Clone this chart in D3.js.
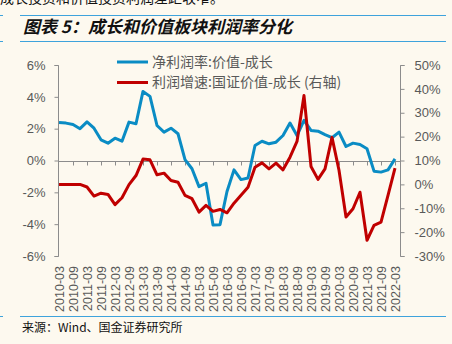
<!DOCTYPE html>
<html>
<head>
<meta charset="utf-8">
<script src="https://cdn.jsdelivr.net/npm/d3@7"></script>
<style>
  html, body { margin: 0; padding: 0; background: #fdf9ef; }
  svg { display: block; }
  text { font-family: "Liberation Sans", "Noto Sans CJK SC", sans-serif; }
</style>
</head>
<body>
<svg id="chart" width="452" height="344"></svg>
<script>
// Quarterly periods
const quarters = [
  "2010-03","2010-06","2010-09","2010-12","2011-03","2011-06","2011-09","2011-12",
  "2012-03","2012-06","2012-09","2012-12","2013-03","2013-06","2013-09","2013-12",
  "2014-03","2014-06","2014-09","2014-12","2015-03","2015-06","2015-09","2015-12",
  "2016-03","2016-06","2016-09","2016-12","2017-03","2017-06","2017-09","2017-12",
  "2018-03","2018-06","2018-09","2018-12","2019-03","2019-06","2019-09","2019-12",
  "2020-03","2020-06","2020-09","2020-12","2021-03","2021-06","2021-09","2021-12",
  "2022-03"
];
// Net margin spread: value minus growth (%), left axis
const marginSpread = [
  2.38, 2.35, 2.26, 2.0, 2.43, 2.03, 1.3, 1.09, 1.4, 1.21, 2.41, 2.31,
  4.34, 4.03, 2.2, 1.78, 2.03, 1.68, 0.06, -0.52, -1.64, -1.43, -4.05, -4.03,
  -1.95, -0.59, -1.2, -1.1, 0.94, 1.21, 1.05, 1.15, 1.57, 2.35, 1.57, 2.52,
  1.89, 1.84, 1.62, 1.43, 1.78, 0.88, 1.09, 1.0, 0.74, -0.67, -0.73, -0.59, 0.1
];
// Profit growth spread: CNI value minus growth (%), right axis
const growthSpread = [
  0, 0, 0, 0, -1.1, -4.9, -3.7, -4.2, -8.5, -5.6, -0.1, 3.7,
  10.6, 10.3, 4.0, 4.7, 1.6, 0.9, -4.6, -6.0, -11.6, -8.8, -11.3, -10.5,
  -11.9, -7.9, -4.6, -1.2, 7.2, 9.0, 6.5, 8.9, 6.1, 11.4, 18.0, 37.2,
  7.5, 2.1, 6.5, 19.7, 5.9, -13.7, -10.2, -3.3, -23.4, -17.2, -15.8, -4.6, 6.8
];
const leftTicks = [-6, -4, -2, 0, 2, 4, 6];
const rightTicks = [-30, -20, -10, 0, 10, 20, 30, 40, 50];
const seriesNames = ["净利润率:价值-成长", "利润增速:国证价值-成长 (右轴)"];
const seriesColors = ["#0a8cc4", "#c00000"];

const svg = d3.select("#chart");
const gray = "#595959";
const axisGray = "#8c8c8c";
const rule = "#3ea3dc";

// Page text above the figure (runs off the top edge)
svg.append("text").attr("x", 0).attr("y", 3)
  .style("font-family", "'Noto Sans CJK SC'").style("font-size", "14px").attr("fill", "#111")
  .text("成长投资和价值投资利润差距收窄。");

// Figure header rules and title
[15.5, 41.5].forEach(y => {
  svg.append("line").attr("x1", 0).attr("x2", 3).attr("y1", y).attr("y2", y).attr("stroke", rule);
  svg.append("line").attr("x1", 20).attr("x2", 446).attr("y1", y).attr("y2", y).attr("stroke", rule);
});
svg.append("text").attr("x", 23).attr("y", 33)
  .style("font-family", "'Noto Sans CJK SC'").style("font-size", "17px")
  .style("font-weight", "bold").style("font-style", "italic").attr("fill", "#111")
  .text("图表 5：成长和价值板块利润率分化");

// Scales
const x = d3.scalePoint().domain(quarters).range([59, 395]);
const yL = d3.scaleLinear().domain([-6, 6]).range([256, 65]);
const yR = d3.scaleLinear().domain([-30, 50]).range([256, 65]);

// Left and right value axes
const gL = svg.append("g").attr("transform", "translate(58.5,0)")
  .call(d3.axisLeft(yL).tickValues(leftTicks).tickSize(4).tickPadding(9).tickFormat(d => d + "%"));
const gR = svg.append("g").attr("transform", "translate(400.5,0)")
  .call(d3.axisRight(yR).tickValues(rightTicks).tickSize(4).tickPadding(10).tickFormat(d => d + "%"));
[gL, gR].forEach(g => {
  g.select(".domain").attr("stroke", axisGray);
  g.selectAll(".tick line").attr("stroke", axisGray);
  g.selectAll(".tick text").attr("fill", gray).style("font-size", "13px")
    .style("font-family", "'Liberation Sans'");
});
gL.select(".domain").attr("d", "M-4,65.5H0V256.5H-4");
gR.select(".domain").attr("d", "M4,65.5H0V256.5H4");

// Category axis sitting on the zero line
const labelQuarters = quarters.filter((q, i) => i % 2 === 0);
const gX = svg.append("g").attr("transform", `translate(0,${Math.round(yL(0)) + 0.5})`);
gX.append("line").attr("x1", 58.5).attr("x2", 400.5).attr("stroke", axisGray);
gX.selectAll(".tk").data(labelQuarters.slice(1)).join("line")
  .attr("x1", d => Math.round(x(d)) + 0.5).attr("x2", d => Math.round(x(d)) + 0.5)
  .attr("y1", 0).attr("y2", 4).attr("stroke", axisGray);

svg.append("g").selectAll("text").data(labelQuarters).join("text")
  .attr("transform", d => `translate(${x(d)},266) rotate(-90)`)
  .attr("text-anchor", "end").attr("dy", "0.36em")
  .attr("fill", gray).style("font-size", "12.5px")
  .text(d => d);

// Series lines
const lineL = d3.line().x((d, i) => x(quarters[i])).y(d => yL(d));
const lineR = d3.line().x((d, i) => x(quarters[i])).y(d => yR(d));
svg.append("path").datum(marginSpread).attr("d", lineL)
  .attr("fill", "none").attr("stroke", seriesColors[0]).attr("stroke-width", 3)
  .attr("stroke-linejoin", "round");
svg.append("path").datum(growthSpread).attr("d", lineR)
  .attr("fill", "none").attr("stroke", seriesColors[1]).attr("stroke-width", 3)
  .attr("stroke-linejoin", "round");

// Legend
const lg = svg.append("g");
seriesNames.forEach((name, i) => {
  const y = 62 + i * 20.5;
  lg.append("line").attr("x1", 117).attr("x2", 148).attr("y1", y).attr("y2", y)
    .attr("stroke", seriesColors[i]).attr("stroke-width", 3);
  lg.append("text").attr("x", 152).attr("y", y).attr("dy", "0.35em")
    .attr("fill", gray).style("font-size", "14px")
    .style("font-family", "'Noto Sans CJK SC'").text(name);
});

// Footer rule and source note
svg.append("line").attr("x1", 0).attr("x2", 3).attr("y1", 316.5).attr("y2", 316.5).attr("stroke", rule);
svg.append("line").attr("x1", 20).attr("x2", 446).attr("y1", 316.5).attr("y2", 316.5).attr("stroke", rule);
svg.append("text").attr("x", 22).attr("y", 332)
  .style("font-family", "'Noto Sans CJK SC'").style("font-size", "12px").attr("fill", "#111")
  .text("来源：Wind、国金证券研究所");
</script>
</body>
</html>
